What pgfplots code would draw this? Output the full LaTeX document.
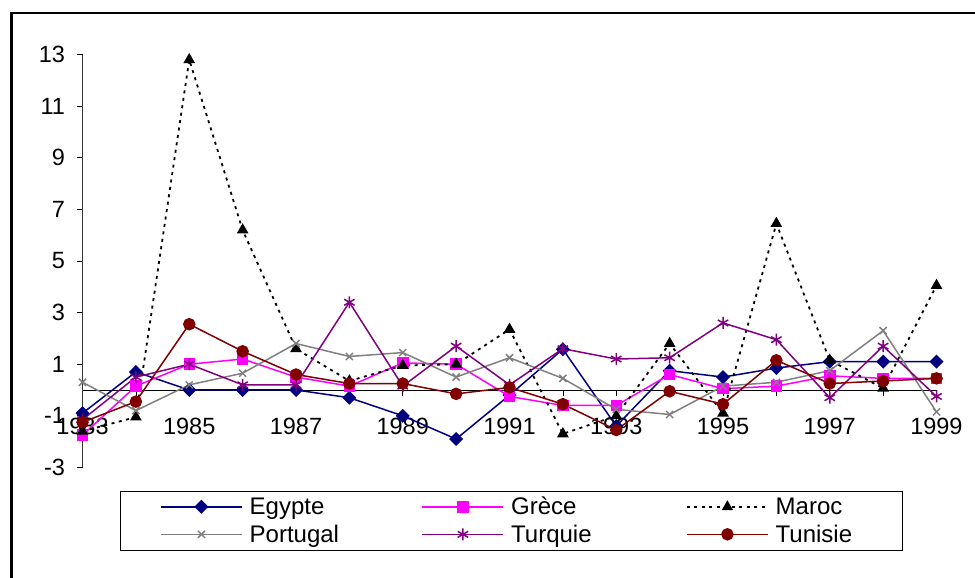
\documentclass[border=0pt]{standalone}
\usepackage{fontspec}
\setmainfont{Liberation Sans}
\usepackage{pgfplots}
\pgfplotsset{compat=1.18}
\definecolor{egy}{RGB}{0,0,128}
\definecolor{gre}{RGB}{255,0,255}
\definecolor{por}{RGB}{128,128,128}
\definecolor{tur}{RGB}{128,0,128}
\definecolor{tun}{RGB}{128,0,0}
\newcommand{\legtxt}[2]{\makebox[#1][l]{#2}}
\begin{document}
\begin{tikzpicture}[x=1pt,y=1pt]
\useasboundingbox (0,0) rectangle (975,578);
\draw[line width=2.5pt] (11.5,-30) rectangle (1010,565.2);
\begin{axis}[
  at={(82.5pt,110.6pt)}, anchor=south west,
  scale only axis, width=854pt, height=412.8pt,
  xmin=1983, xmax=1999, ymin=-3, ymax=13,
  axis x line*=middle, axis y line*=left,
  hide obscured x ticks=false, hide obscured y ticks=false,
  xtick={1983,...,1999},
  xticklabels={1983,{},1985,{},1987,{},1989,{},1991,{},1993,{},1995,{},1997,{},1999},
  ytick={-3,-1,...,13},
  tick align=outside, major tick length=6pt,
  tick style={black, line width=0.6pt},
  x axis line style={black, line width=0.8pt},
  y axis line style={black!80, line width=0.8pt},
  /pgf/number format/assume math mode=true,
  ticklabel style={font=\fontsize{23.5}{26}\selectfont},
  xticklabel style={yshift=-19pt},
  yticklabel style={xshift=-8pt},
  clip=false,
  legend columns=3,
  legend style={at={(axis description cs:0.0439,-0.0572)}, anchor=north west,
    draw=black, inner xsep=40pt, inner ysep=6pt,
    font=\fontsize{24}{26.3}\selectfont,
    nodes={inner sep=0pt, anchor=west}, row sep=8.5pt,
    /tikz/every odd column/.append style={column sep=7pt}},
  legend image code/.code={\draw[mark repeat=2,mark phase=2,line width=1.5pt,#1] plot coordinates {(0pt,0pt) (40.5pt,0pt) (81pt,0pt)};},
]
\addplot[egy, line width=1.5pt, mark=square*, mark size=4.2pt, mark options={rotate=45, solid}] coordinates {
(1983,-0.9) (1984,0.7) (1985,0) (1986,0) (1987,0) (1988,-0.3) (1989,-1.0) (1990,-1.9) (1991,-0.2) (1992,1.58) (1993,-1.4) (1994,0.75) (1995,0.5) (1996,0.85) (1997,1.1) (1998,1.1) (1999,1.1)};
\addlegendentry{\legtxt{172pt}{Egypte}}
\addplot[gre, line width=1.5pt, mark=square*, mark size=5pt] coordinates {
(1983,-1.75) (1984,0.15) (1985,1.0) (1986,1.2) (1987,0.5) (1988,0.15) (1989,1.05) (1990,1.0) (1991,-0.25) (1992,-0.6) (1993,-0.6) (1994,0.6) (1995,0.05) (1996,0.15) (1997,0.55) (1998,0.45) (1999,0.45)};
\addlegendentry{\legtxt{175pt}{Grèce}}
\addplot[black, line width=1.8pt, dash pattern=on 3pt off 4.5pt, mark=triangle*, mark size=5pt, mark options={solid}] coordinates {
(1983,-1.6) (1984,-1.05) (1985,12.8) (1986,6.2) (1987,1.6) (1988,0.35) (1989,0.95) (1990,1.0) (1991,2.35) (1992,-1.7) (1993,-1.0) (1994,1.8) (1995,-0.9) (1996,6.45) (1997,1.15) (1998,0.07) (1999,4.05)};
\addlegendentry{\legtxt{87pt}{Maroc}}
\addplot[por, line width=1.5pt, mark=x, mark size=5pt, mark options={solid, line width=1.5pt}] coordinates {
(1983,0.3) (1984,-0.8) (1985,0.2) (1986,0.65) (1987,1.8) (1988,1.3) (1989,1.45) (1990,0.5) (1991,1.25) (1992,0.45) (1993,-0.75) (1994,-0.95) (1995,0.15) (1996,0.3) (1997,0.75) (1998,2.3) (1999,-0.85)};
\addlegendentry{\legtxt{172pt}{Portugal}}
\addplot[tur, line width=1.5pt, mark=asterisk, mark size=6pt, mark options={solid, line width=1.5pt}] coordinates {
(1983,-1.15) (1984,0.5) (1985,1.0) (1986,0.2) (1987,0.2) (1988,3.4) (1989,0.15) (1990,1.7) (1991,0.2) (1992,1.6) (1993,1.2) (1994,1.25) (1995,2.6) (1996,1.95) (1997,-0.3) (1998,1.7) (1999,-0.25)};
\addlegendentry{\legtxt{175pt}{Turquie}}
\addplot[tun, line width=1.5pt, mark=*, mark size=5.5pt, mark options={solid}] coordinates {
(1983,-1.25) (1984,-0.45) (1985,2.55) (1986,1.5) (1987,0.6) (1988,0.25) (1989,0.25) (1990,-0.15) (1991,0.1) (1992,-0.55) (1993,-1.55) (1994,-0.05) (1995,-0.55) (1996,1.15) (1997,0.25) (1998,0.35) (1999,0.45)};
\addlegendentry{\legtxt{87pt}{Tunisie}}
\end{axis}
\end{tikzpicture}
\end{document}
